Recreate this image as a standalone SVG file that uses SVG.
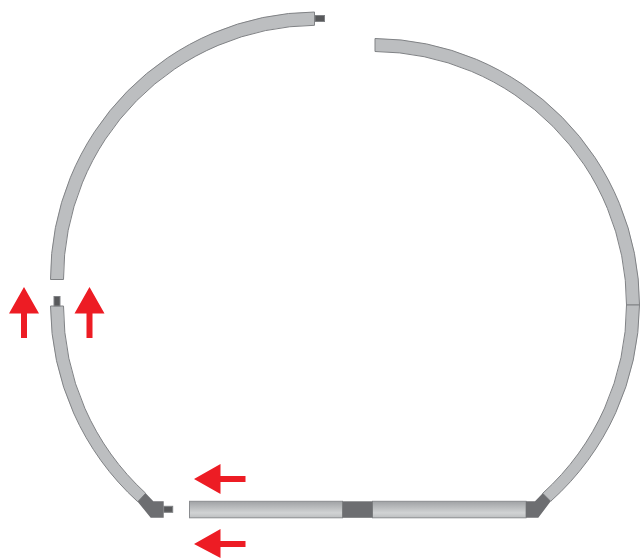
<svg xmlns="http://www.w3.org/2000/svg" width="640" height="558" viewBox="0 0 640 558">
<defs>
<linearGradient id="bar" x1="0" y1="0" x2="0" y2="1">
<stop offset="0" stop-color="#a0a2a5"/><stop offset="0.7" stop-color="#d1d3d4"/><stop offset="1" stop-color="#bcbec0"/>
</linearGradient>
</defs>
<style>
.seg{fill:#bcbec0;stroke:#808285;stroke-width:1}
.bar{fill:url(#bar);stroke:#8a8c8f;stroke-width:1}
.dark{fill:#6d6e71}
.tip{fill:#58595b;stroke:#808285;stroke-width:1}
.arrow{fill:#ed1c24}
</style>
<g id="track">
<path id="arc-top-left" class="seg" d="M50.5 279.5A266.500 266.500 0 0 1 314.500 12V25.300A253.500 253.500 0 0 0 63.500 279.500Z"/>
<path id="arc-top-right" class="seg" d="M375 38.500A266.500 266.500 0 0 1 639.500 305H626.500A253.500 253.500 0 0 0 375 51.500Z"/>
<path id="arc-lower-right" class="seg" d="M639.500 305A266.500 266.500 0 0 1 550.700 501.300L542.700 493.300A253.500 253.500 0 0 0 626.500 305Z"/>
<path id="arc-lower-left" class="seg" d="M50.500 306H63.500A253.500 253.500 0 0 0 145.700 493.300L137.700 501.700A266.500 266.500 0 0 1 50.500 306Z"/>
<rect id="bar-left" class="bar" x="189.500" y="501.300" width="153" height="16.500"/>
<rect id="bar-right" class="bar" x="372.500" y="501.300" width="153.500" height="16.500"/>
<rect id="bar-joint" class="dark" x="342.500" y="501.300" width="30" height="16.500"/>
<path id="corner-right" class="dark" d="M526 501.300H535L542.700 493.300L550.700 501.300L538.300 517.800H526Z"/>
<path id="corner-left" class="dark" d="M145.700 493.300L153.300 501.300H163.700V517.800H150.700L137.700 501.700Z"/>
<rect id="tip-top" class="tip" x="315" y="15.500" width="9.500" height="6"/>
<rect id="tip-left" class="tip" x="54" y="296.500" width="6" height="9.500"/>
<rect id="tip-bottom" class="tip" x="163.700" y="506.300" width="9" height="6"/>
</g>
<g id="arrows">
<path id="arrow-up-left" class="arrow" d="M24 287L39 313.500H27V338H21V313.500H9Z"/>
<path id="arrow-up-right" class="arrow" d="M89.500 287L104.500 313.500H92.500V338H86.500V313.500H74.500Z"/>
<path id="arrow-left-top" class="arrow" d="M194 479L220.500 464V476H245.500V482H220.500V494Z"/>
<path id="arrow-left-bottom" class="arrow" d="M194 544L220.500 529V541H245.500V547H220.500V558Z"/>
</g>
</svg>
